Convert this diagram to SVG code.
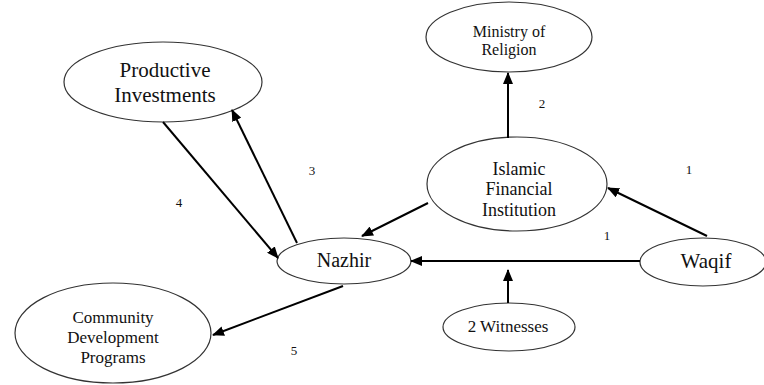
<svg xmlns="http://www.w3.org/2000/svg" width="764" height="385" viewBox="0 0 764 385">
<style>
.node ellipse{fill:#fff;stroke:#333;stroke-width:1.2}
text{font-family:"Times New Roman","Liberation Serif",Times,serif;fill:#111;text-anchor:middle}
.edge{stroke:#000;stroke-width:2;fill:none;marker-end:url(#arr)}
.lbl{font-size:13px}
</style>
<defs>
<marker id="arr" markerUnits="userSpaceOnUse" markerWidth="12" markerHeight="10" refX="11" refY="5" orient="auto">
<path d="M0,0 L12,5 L0,10 z" fill="#000"/>
</marker>
</defs>
<rect width="764" height="385" fill="#fff"/>
<g id="productive" class="node">
<ellipse cx="163" cy="82" rx="99" ry="40"/>
<text x="165" y="77" font-size="21">Productive</text>
<text x="165" y="102" font-size="21">Investments</text>
</g>
<g id="ministry" class="node">
<ellipse cx="509" cy="37" rx="83" ry="35"/>
<text x="509" y="37" font-size="16">Ministry of</text>
<text x="509" y="55" font-size="16">Religion</text>
</g>
<g id="islamic" class="node">
<ellipse cx="517" cy="184" rx="90" ry="47"/>
<text x="519" y="175" font-size="18">Islamic</text>
<text x="519" y="195" font-size="18">Financial</text>
<text x="519" y="216" font-size="18">Institution</text>
</g>
<g id="nazhir" class="node">
<ellipse cx="344" cy="261" rx="67" ry="23"/>
<text x="344" y="267" font-size="20">Nazhir</text>
</g>
<g id="waqif" class="node">
<ellipse cx="703" cy="262" rx="63" ry="24"/>
<text x="706" y="268" font-size="21">Waqif</text>
</g>
<g id="community" class="node">
<ellipse cx="113" cy="333" rx="98" ry="50"/>
<text x="113" y="323" font-size="17">Community</text>
<text x="113" y="343" font-size="17">Development</text>
<text x="113" y="363" font-size="17">Programs</text>
</g>
<g id="witnesses" class="node">
<ellipse cx="509" cy="327" rx="66" ry="24"/>
<text x="508" y="332" font-size="17">2 Witnesses</text>
</g>
<g id="connectors">
<line class="edge" x1="508" y1="138" x2="508" y2="73"/>
<line class="edge" x1="707" y1="236" x2="608" y2="188"/>
<line class="edge" x1="640" y1="261" x2="411" y2="261"/>
<line class="edge" x1="508" y1="303" x2="508" y2="270"/>
<line class="edge" x1="428" y1="203" x2="362" y2="236"/>
<line class="edge" x1="297" y1="243" x2="232" y2="110"/>
<line class="edge" x1="163" y1="122" x2="278" y2="258"/>
<line class="edge" x1="343" y1="286" x2="213" y2="335"/>
</g>
<g id="labels">
<text class="lbl" x="542" y="108">2</text>
<text class="lbl" x="689" y="174">1</text>
<text class="lbl" x="607" y="240">1</text>
<text class="lbl" x="312" y="175">3</text>
<text class="lbl" x="179" y="207">4</text>
<text class="lbl" x="294" y="355">5</text>
</g>
</svg>
